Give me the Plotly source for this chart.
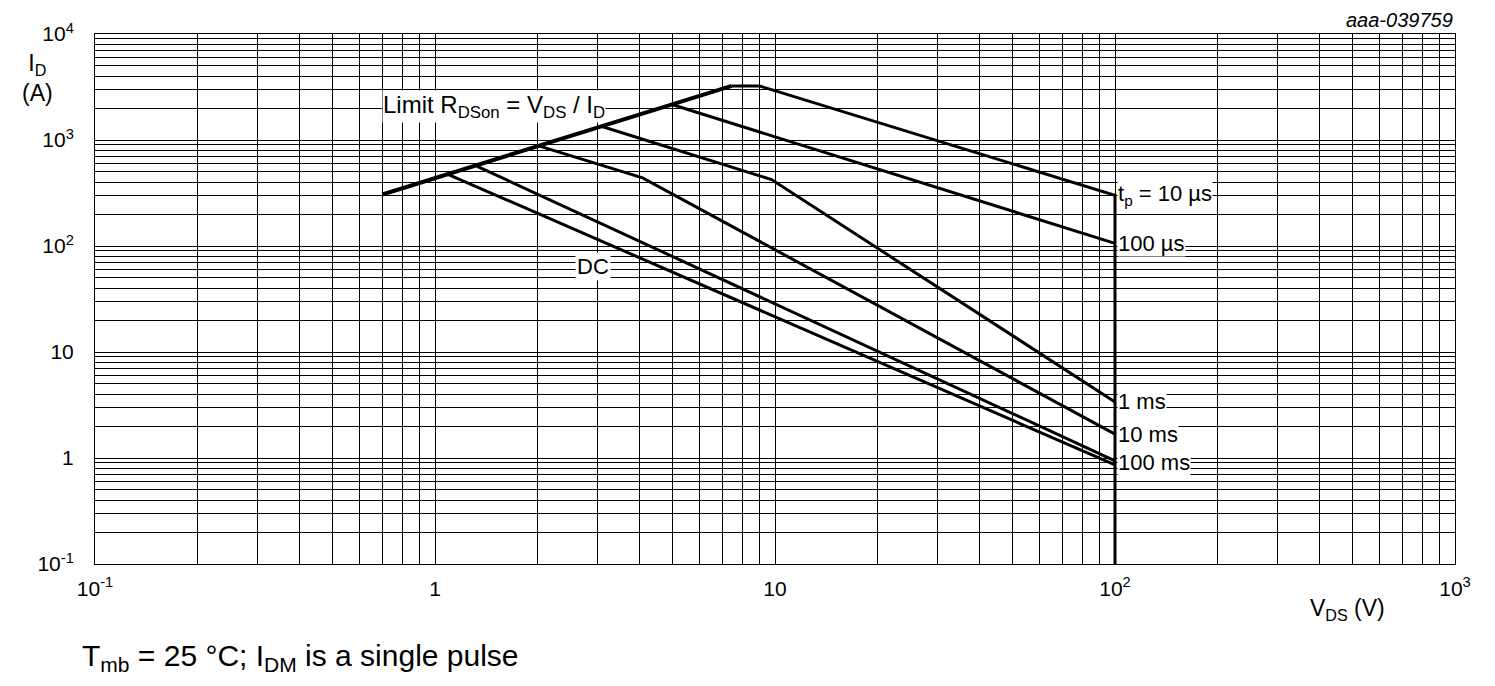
import math
import plotly.graph_objects as go

# ---- data (V_DS in volts, I_D in amps) ----
limit_v = [0.70, 7.46]
limit_i = [306, 3237]

tp10us_v = [7.46, 9.0, 100, 100]
tp10us_i = [3237, 3237, 300, 0.1]

tp100us_v = [5.0, 100]
tp100us_i = [2150, 106]

tp1ms_v = [3.1, 9.77, 100]
tp1ms_i = [1340, 423, 3.38]

tp10ms_v = [2.03, 4.08, 100]
tp10ms_i = [875, 439, 1.68]

tp100ms_v = [1.33, 100]
tp100ms_i = [565, 0.94]

dc_v = [1.10, 100]
dc_i = [470, 0.86]

x_tickvals = [0.1, 1, 10, 100, 1000]
x_ticktext = ["10<sup>-1</sup>", "1", "10", "10<sup>2</sup>", "10<sup>3</sup>"]
y_tickvals = [0.1, 1, 10, 100, 1000, 10000]
y_ticktext = ["10<sup>-1</sup>", "1", "10", "10<sup>2</sup>", "10<sup>3</sup>", "10<sup>4</sup>"]

curve_labels = ["t<sub>p</sub> = 10 µs", "100 µs", "1 ms", "10 ms", "100 ms"]
curve_label_i = [300, 106, 3.38, 1.68, 0.9]

FONT = "Liberation Sans, Arial, sans-serif"

minor_x = [m * 10 ** e for e in range(-1, 3) for m in range(2, 10)]
minor_y = [m * 10 ** e for e in range(-1, 4) for m in range(2, 10)]

fig = go.Figure()

line = dict(color="black", width=3)
fig.add_trace(go.Scatter(x=limit_v, y=limit_i, mode="lines", line=dict(color="black", width=4)))
for v, i in [(tp10us_v, tp10us_i), (tp100us_v, tp100us_i), (tp1ms_v, tp1ms_i),
             (tp10ms_v, tp10ms_i), (tp100ms_v, tp100ms_i), (dc_v, dc_i)]:
    fig.add_trace(go.Scatter(x=v, y=i, mode="lines", line=line))

annotations = []
for txt, yi in zip(curve_labels, curve_label_i):
    annotations.append(dict(x=math.log10(100), y=math.log10(yi), xref="x", yref="y",
                            text=txt, showarrow=False, xanchor="left", yanchor="middle",
                            xshift=2, bgcolor="white", borderpad=0,
                            font=dict(family=FONT, size=22, color="black")))
annotations.append(dict(x=math.log10(0.70), y=math.log10(2050), xref="x", yref="y",
                        text="Limit R<sub>DSon</sub> = V<sub>DS</sub> / I<sub>D</sub>",
                        showarrow=False, xanchor="left", yanchor="middle", bgcolor="white",
                        borderpad=0, font=dict(family=FONT, size=24, color="black")))
annotations.append(dict(x=math.log10(2.92), y=math.log10(64), xref="x", yref="y",
                        text="DC", showarrow=False, xanchor="center", yanchor="middle",
                        bgcolor="white", borderpad=1,
                        font=dict(family=FONT, size=22, color="black")))

# page-pixel annotations (converted below)
page_ann = [
    dict(px=1455, py=16, text="<i>aaa-039759</i>", xanchor="right", size=20),
    dict(px=37, py=74, text="I<sub>D</sub><br>(A)", xanchor="center", size=23),
    dict(px=1347, py=610, text="V<sub>DS</sub> (V)", xanchor="center", size=23),
    dict(px=80, py=658, text="T<sub>mb</sub> = 25 °C; I<sub>DM</sub> is a single pulse",
         xanchor="left", size=30),
]

OFF = 8  # page body margin
W, H = 1495 - OFF, 686 - OFF
L, T = 95 - OFF, 30 - OFF
R = W - (1455 - OFF)
B = H - (564 - OFF)
pw, ph = W - L - R, H - T - B

for a in page_ann:
    fx = (a["px"] - OFF - L) / pw
    fy = (H - (a["py"] - OFF) - B) / ph
    annotations.append(dict(x=fx, y=fy, xref="paper", yref="paper", text=a["text"],
                            showarrow=False, xanchor=a["xanchor"], yanchor="middle",
                            align="center",
                            font=dict(family=FONT, size=a["size"], color="black")))

fig.update_layout(
    width=W, height=H,
    margin=dict(l=L, r=R, t=T, b=B),
    paper_bgcolor="white", plot_bgcolor="white",
    showlegend=False,
    font=dict(family=FONT, size=21, color="black"),
    annotations=annotations,
    xaxis=dict(type="log", range=[-1, 3], tickvals=x_tickvals, ticktext=x_ticktext,
               showgrid=True, gridcolor="black", gridwidth=1,
               showline=True, mirror=True, linecolor="black", linewidth=1,
               ticks="", ticklabelstandoff=6,
               tickfont=dict(family=FONT, size=21, color="black"),
               minor=dict(tickvals=minor_x, showgrid=True, gridcolor="black", gridwidth=1, ticks=""),
               zeroline=False),
    yaxis=dict(type="log", range=[-1, 4], tickvals=y_tickvals, ticktext=y_ticktext,
               showgrid=True, gridcolor="black", gridwidth=1,
               showline=True, mirror=True, linecolor="black", linewidth=1,
               ticks="", ticklabelstandoff=16,
               tickfont=dict(family=FONT, size=21, color="black"),
               minor=dict(tickvals=minor_y, showgrid=True, gridcolor="black", gridwidth=1, ticks=""),
               zeroline=False),
)

fig.write_html("out.html")
